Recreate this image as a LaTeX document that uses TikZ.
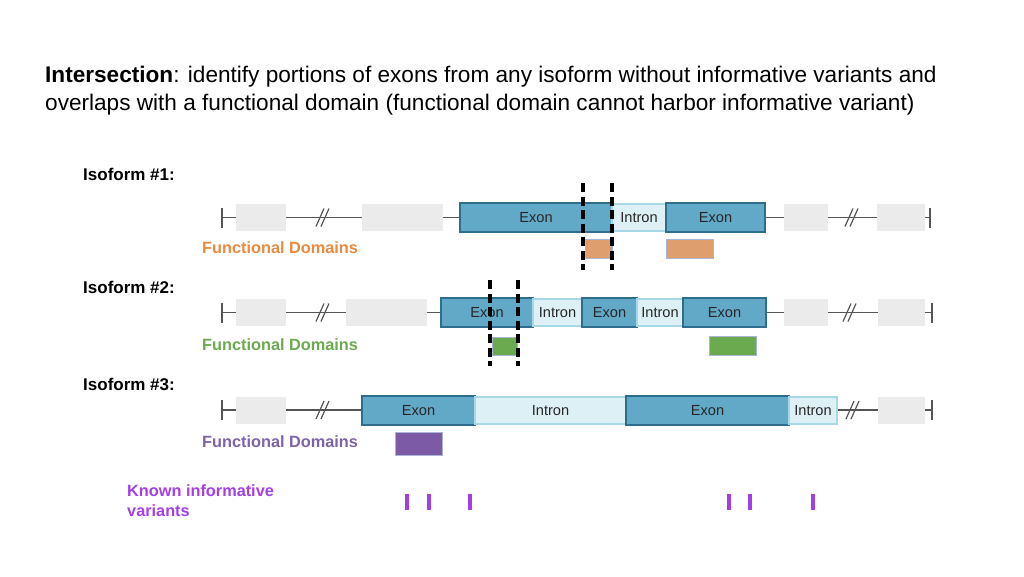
\documentclass[tikz,border=0pt]{standalone}
\usepackage{fontspec}
\setmainfont{Liberation Sans}
\usetikzlibrary{calc}
\definecolor{exonF}{HTML}{62A8C7}
\definecolor{exonB}{HTML}{2E6E8C}
\definecolor{intF}{HTML}{DDF0F6}
\definecolor{intB}{HTML}{A8D8E6}
\definecolor{grayF}{HTML}{EBEBEB}
\definecolor{lineC}{HTML}{555555}
\definecolor{domB}{HTML}{A9B6D8}
\definecolor{orangeF}{HTML}{DF9E6E}
\definecolor{orangeT}{HTML}{EA8A3E}
\definecolor{greenF}{HTML}{6BAA4E}
\definecolor{greenT}{HTML}{6BAA4E}
\definecolor{purpleF}{HTML}{7D5BA4}
\definecolor{purpleT}{HTML}{7E62AA}
\definecolor{varC}{HTML}{A43FE8}
\newcommand{\seg}[7]{\node[#2, minimum width={(#4-#3)*1pt}, minimum height={(#6-#5)*1pt}, anchor=north west] (#1) at (#3,#5) {#7};}
\newcommand{\slashes}[2]{\draw[slash] (#1-7,#2+9) -- (#1+1,#2-9); \draw[slash] (#1-2,#2+9) -- (#1+6,#2-9);}
\begin{document}
\begin{tikzpicture}[x=1pt,y=-1pt,
  box/.style={inner sep=0pt, outer sep=0pt, font=\fontsize{14.6}{14}\selectfont, text=black!85},
  exon/.style={box, draw=exonB, fill=exonF, line width=1.6pt},
  intron/.style={box, draw=intB, fill=intF, line width=1.2pt},
  grayb/.style={box, fill=grayF},
  dom/.style={box, draw=domB, line width=1pt},
  backbone/.style={draw=lineC, line width=1.8pt},
  tickbar/.style={draw=lineC, line width=2.2pt},
  slash/.style={draw=lineC, line width=1.2pt},
  cut/.style={draw=black, line width=3.4pt, dash pattern=on 9pt off 4.5pt},
  lab/.style={anchor=west, inner sep=0pt, font=\fontsize{17}{18}\selectfont\bfseries},
  fd/.style={anchor=west, inner sep=0pt, font=\fontsize{16.3}{18}\selectfont\bfseries},
  variant/.style={fill=varC, draw=none, inner sep=0pt, minimum width=4pt, minimum height=16pt, anchor=north}
]
\useasboundingbox (0,0) rectangle (1024,576);

% title
\node[anchor=base west, inner sep=0pt, font=\fontsize{22.6}{26}\selectfont] (t1) at (45,82) {\textbf{Intersection}: identify portions of exons from any isoform without informative variants and};
\node[anchor=base west, inner sep=0pt, font=\fontsize{22.6}{26}\selectfont] (t2) at (45,110) {overlaps with a functional domain (functional domain cannot harbor informative variant)};

% ---------- Isoform 1 ----------
\node[lab] (iso1) at (83,174) {Isoform \#1:};
\coordinate (L1) at (222,217.5);
\coordinate (R1) at (930,217.5);
\draw[backbone] (L1) -- (R1);
\draw[tickbar] ($(L1)+(0,-10)$) -- ($(L1)+(0,10)$);
\draw[tickbar] ($(R1)+(0,-10)$) -- ($(R1)+(0,10)$);
\slashes{323}{217.5}
\slashes{852}{217.5}
\seg{g11}{grayb}{236}{286}{204}{231}{}
\seg{g12}{grayb}{362}{443}{204}{231}{}
\seg{g13}{grayb}{784}{828}{204}{231}{}
\seg{g14}{grayb}{877}{925}{204}{231}{}
\seg{e11}{exon}{460}{612}{203}{232}{Exon}
\seg{i11}{intron}{612}{666}{204}{231}{Intron}
\seg{e12}{exon}{666}{765}{203}{232}{Exon}
\node[fd, text=orangeT] (fd1) at (202,248) {Functional Domains};
\seg{d11}{dom, fill=orangeF}{585}{612}{239}{258}{}
\seg{d12}{dom, fill=orangeF}{666}{713}{239}{258}{}
\draw[cut] (583,183) -- (583,270);
\draw[cut] (612,183) -- (612,270);

% ---------- Isoform 2 ----------
\node[lab] (iso2) at (83,287) {Isoform \#2:};
\coordinate (L2) at (222,312.5);
\coordinate (R2) at (932,312.5);
\draw[backbone] (L2) -- (R2);
\draw[tickbar] ($(L2)+(0,-10)$) -- ($(L2)+(0,10)$);
\draw[tickbar] ($(R2)+(0,-10)$) -- ($(R2)+(0,10)$);
\slashes{323}{312.5}
\slashes{850}{312.5}
\seg{g21}{grayb}{236}{286}{299}{326}{}
\seg{g22}{grayb}{346}{427}{299}{326}{}
\seg{g23}{grayb}{784}{828}{299}{326}{}
\seg{g24}{grayb}{878}{925}{299}{326}{}
\seg{e21}{exon}{441}{533}{298}{327}{Exon}
\seg{i21}{intron}{533}{582}{299}{326}{Intron}
\seg{e22}{exon}{582}{637}{298}{327}{Exon}
\seg{i22}{intron}{637}{683}{299}{326}{Intron}
\seg{e23}{exon}{683}{766}{298}{327}{Exon}
\node[fd, text=greenT] (fd2) at (202,345) {Functional Domains};
\seg{d21}{dom, fill=greenF}{492}{517}{337}{355}{}
\seg{d22}{dom, fill=greenF}{709}{756}{336}{355}{}
\draw[cut] (490,280) -- (490,366);
\draw[cut] (518,280) -- (518,366);

% ---------- Isoform 3 ----------
\node[lab] (iso3) at (83,384) {Isoform \#3:};
\coordinate (L3) at (222,410);
\coordinate (R3) at (932,410);
\draw[backbone] (L3) -- (R3);
\draw[tickbar] ($(L3)+(0,-10)$) -- ($(L3)+(0,10)$);
\draw[tickbar] ($(R3)+(0,-10)$) -- ($(R3)+(0,10)$);
\slashes{323}{410}
\slashes{853}{410}
\seg{g31}{grayb}{236}{286}{397}{424}{}
\seg{e31}{exon}{362}{475}{396}{425}{Exon}
\seg{i31}{intron}{475}{626}{397}{424}{Intron}
\seg{e32}{exon}{626}{789}{396}{425}{Exon}
\seg{i32}{intron}{789}{837}{397}{424}{Intron}
\seg{g32}{grayb}{878}{925}{397}{424}{}
\node[fd, text=purpleT] (fd3) at (202,442) {Functional Domains};
\seg{d31}{dom, fill=purpleF}{395}{442}{432}{455}{}

% ---------- Variants ----------
\node[anchor=north west, inner sep=0pt, align=left, text=varC, font=\fontsize{16.3}{20}\selectfont\bfseries] (kv) at (127,484) {Known informative\\variants};
\node[variant] (v1) at (407,494) {};
\node[variant] (v2) at (429,494) {};
\node[variant] (v3) at (470,494) {};
\node[variant] (v4) at (729,494) {};
\node[variant] (v5) at (750,494) {};
\node[variant] (v6) at (813,494) {};
\end{tikzpicture}
\end{document}
